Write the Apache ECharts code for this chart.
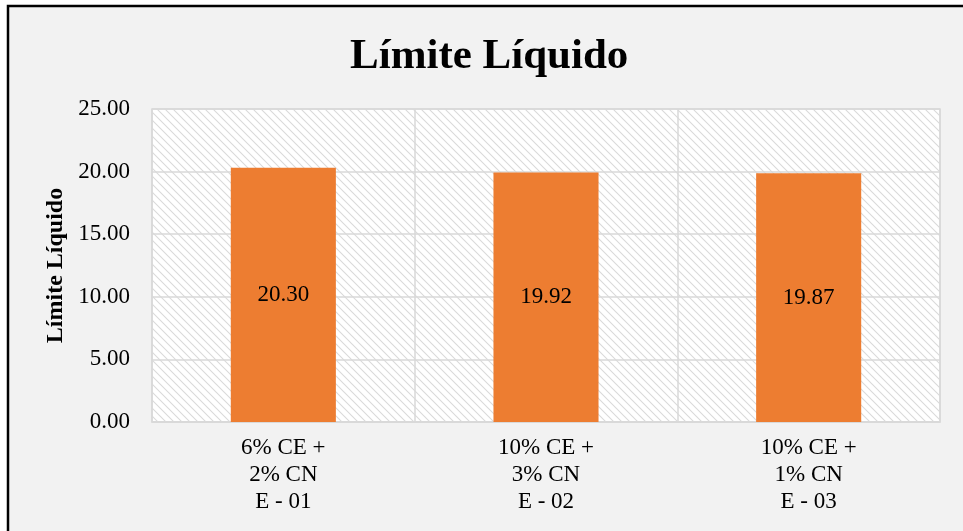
<!DOCTYPE html>
<html><head><meta charset="utf-8">
<script src="https://cdn.jsdelivr.net/npm/echarts@6/dist/echarts.min.js"></script>
<style>html,body{margin:0;padding:0;background:#fff;}#c{width:963px;height:531px;}</style>
</head><body><div id="c"></div>
<script>
const categories = ['6% CE +\n2% CN\nE - 01', '10% CE +\n3% CN\nE - 02', '10% CE +\n1% CN\nE - 03'];
const values = [20.30, 19.92, 19.87];
const titleText = 'Límite Líquido';
const yAxisName = 'Límite Líquido';

const pc = document.createElement('canvas');
pc.width = 8; pc.height = 8;
const g = pc.getContext('2d');
g.fillStyle = '#ffffff'; g.fillRect(0,0,8,8);
g.strokeStyle = '#dadada'; g.lineWidth = 1.1;
g.beginPath();
g.moveTo(-2,-2); g.lineTo(10,10);
g.moveTo(-10,-2); g.lineTo(2,10);
g.moveTo(6,-2); g.lineTo(18,10);
g.stroke();

const font = '"Liberation Serif", "Times New Roman", serif';
const chart = echarts.init(document.getElementById('c'));
chart.setOption({
  backgroundColor: '#ffffff',
  animation: false,
  graphic: [{
    type: 'rect', z: -10, silent: true,
    shape: { x: 8, y: 6, width: 1000, height: 600 },
    style: { fill: '#f2f2f2', stroke: '#000', lineWidth: 2.5 }
  }],
  title: {
    text: titleText, left: 345, top: 30,
    textStyle: { fontFamily: font, fontSize: 43, fontWeight: 'bold', color: '#000' }
  },
  grid: {
    left: 152, right: 23, top: 109, bottom: 109,
    show: true, backgroundColor: { image: pc, repeat: 'repeat' },
    borderColor: '#d9d9d9', borderWidth: 1.5
  },
  xAxis: {
    type: 'category', data: categories,
    axisLine: { lineStyle: { color: '#d9d9d9', width: 1.5 } },
    axisTick: { show: false },
    splitLine: { show: true, lineStyle: { color: '#d9d9d9', width: 1.5 } },
    axisLabel: { fontFamily: font, fontSize: 23, color: '#000', lineHeight: 27, margin: 12 }
  },
  yAxis: {
    type: 'value', min: 0, max: 25, interval: 5,
    name: yAxisName, nameLocation: 'middle', nameGap: 84,
    nameTextStyle: { fontFamily: font, fontSize: 24, fontWeight: 'bold', color: '#000' },
    axisLine: { show: false }, axisTick: { show: false },
    splitLine: { lineStyle: { color: '#d9d9d9', width: 1.5 } },
    axisLabel: { fontFamily: font, fontSize: 23, color: '#000', margin: 22,
      formatter: v => v.toFixed(2) }
  },
  series: [{
    type: 'bar', data: values, barWidth: '40%',
    itemStyle: { color: '#ed7d31' },
    label: { show: true, position: 'inside', fontFamily: font, fontSize: 23, color: '#000',
      formatter: p => p.value.toFixed(2) }
  }]
});
</script></body></html>
